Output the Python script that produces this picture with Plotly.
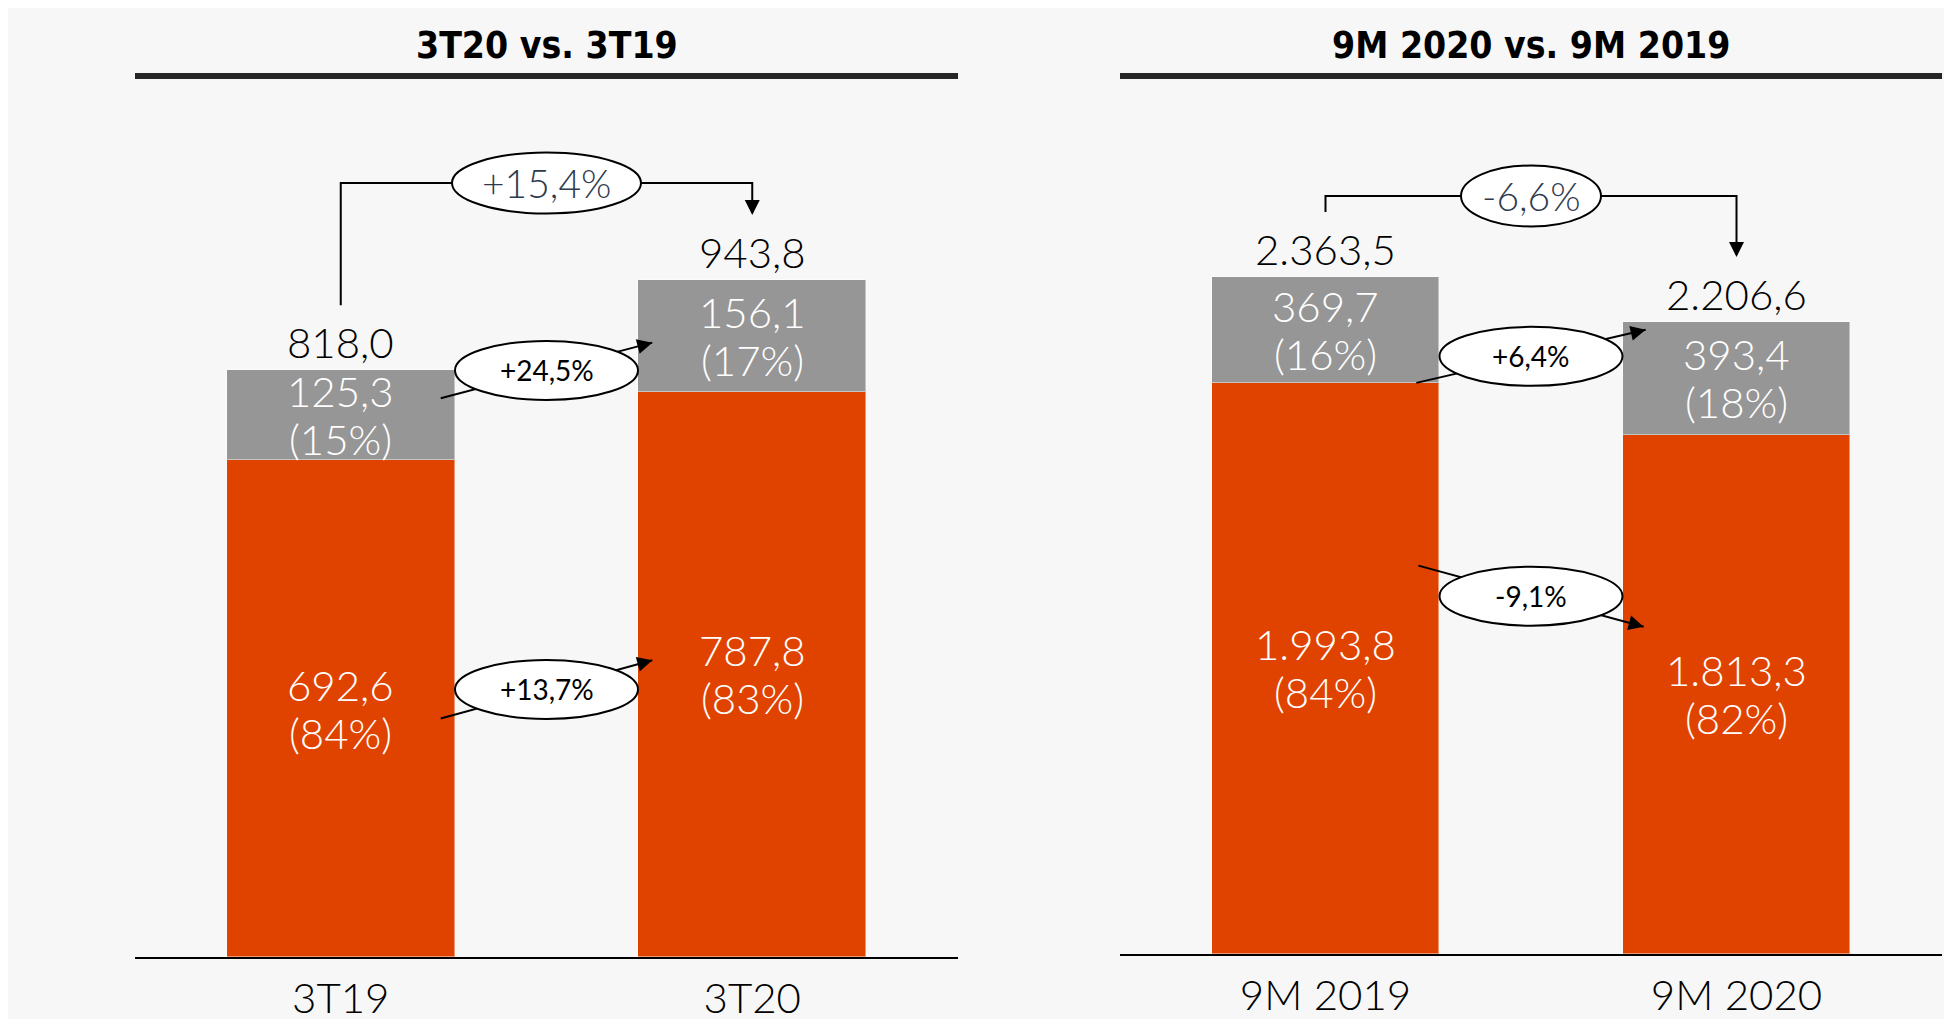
import plotly.graph_objects as go

# ---------------- data ----------------
q_categories = ["3T19", "3T20"]
q_bottom = [692.6, 787.8]
q_top = [125.3, 156.1]
q_total = [818.0, 943.8]
q_bottom_share = [84, 83]
q_top_share = [15, 17]
q_changes = ["+15,4%", "+24,5%", "+13,7%"]   # total, top segment, bottom segment

m_categories = ["9M 2019", "9M 2020"]
m_bottom = [1993.8, 1813.3]
m_top = [369.7, 393.4]
m_total = [2363.5, 2206.6]
m_bottom_share = [84, 82]
m_top_share = [16, 18]
m_changes = ["-6,6%", "+6,4%", "-9,1%"]

titles = ["3T20 vs. 3T19", "9M 2020 vs. 9M 2019"]

# ---------------- style ----------------
ORANGE = "#E04300"
GREY = "#969696"
BG = "#F7F7F7"
NUM_FONT = "Lato, 'Liberation Sans', sans-serif"
TITLE_FONT = "'DejaVu Sans Condensed', 'Liberation Sans Narrow', 'DejaVu Sans', sans-serif"
W, H = 1952, 1019
OFF = 8
BAR_PX = 677.0  # pixel height of the tallest bar
NUM_WEIGHT = 300


def fx(px):
    return (px - OFF) / W


def fy(py):
    return 1 - (py - OFF) / H


def fmt(v):
    s = f"{v:,.1f}"
    return s.replace(",", "X").replace(".", ",").replace("X", ".")


def nfont(size, color, weight=NUM_WEIGHT):
    return dict(family=NUM_FONT, size=size, color=color, weight=weight)


panels = [
    dict(cats=q_categories, bottom=q_bottom, top=q_top, total=q_total,
         bshare=q_bottom_share, tshare=q_top_share, changes=q_changes,
         xd=[fx(135), fx(958)], base_px=957, xa="x", ya="y",
         level_px=97, conn=dict(top=(0.69, 0.44), bot=(0.48, 0.525), top_end_dx=0.757, bot_end_dx=0.757)),
    dict(cats=m_categories, bottom=m_bottom, top=m_top, total=m_total,
         bshare=m_bottom_share, tshare=m_top_share, changes=m_changes,
         xd=[fx(1120), fx(1942)], base_px=954, xa="x2", ya="y2",
         level_px=81, conn=dict(top=(0.0, 0.93), bot=(0.68, 0.63), top_end_dx=0.779, bot_end_dx=0.774)),
]

TOP_PX = 100
BAR_W = 0.554

fig = go.Figure()
shapes = []
annotations = []

for i, p in enumerate(panels):
    xs = [0, 1]
    fig.add_trace(go.Bar(x=xs, y=p["bottom"], marker=dict(color=ORANGE, line=dict(width=1, color="rgba(255,255,255,0.45)")),
                         width=BAR_W, xaxis=p["xa"], yaxis=p["ya"], showlegend=False, hoverinfo="skip"))
    fig.add_trace(go.Bar(x=xs, y=p["top"], marker=dict(color=GREY, line=dict(width=1, color="rgba(255,255,255,0.45)")),
                         width=BAR_W, xaxis=p["xa"], yaxis=p["ya"], showlegend=False, hoverinfo="skip"))

    plot_h = p["base_px"] - TOP_PX
    ymax = max(p["total"])
    rng = plot_h * ymax / BAR_PX
    ppu = BAR_PX / ymax  # px per unit
    p["rng"] = rng
    p["ppu"] = ppu
    xa, ya = p["xa"], p["ya"]

    # segment labels
    for j in range(2):
        bmid = p["bottom"][j] / 2
        tmid = p["bottom"][j] + p["top"][j] / 2
        for (ymid, val, sh) in [(bmid, p["bottom"][j], p["bshare"][j]), (tmid, p["top"][j], p["tshare"][j])]:
            annotations.append(dict(x=j, y=ymid, xref=xa, yref=ya, text=fmt(val), showarrow=False,
                                    yshift=24, font=nfont(42, "white")))
            annotations.append(dict(x=j, y=ymid, xref=xa, yref=ya, text=f"({sh}%)", showarrow=False,
                                    yshift=-24, font=nfont(42, "white")))
        # totals
        annotations.append(dict(x=j, y=p["total"][j], xref=xa, yref=ya, text=fmt(p["total"][j]), showarrow=False,
                                yshift=28, font=nfont(42, "black")))

    # bracket for total change
    gap = 65 / ppu
    level = ymax + p["level_px"] / ppu
    y0s = p["total"][0] + gap
    y1s = p["total"][1] + gap
    shapes.append(dict(type="path", xref=xa, yref=ya,
                       path=f"M 0,{y0s} L 0,{level} L 1,{level} L 1,{y1s + 2 / ppu}",
                       line=dict(color="black", width=2)))
    annotations.append(dict(x=1, y=y1s, xref=xa, yref=ya, ax=1, ay=y1s + 12 / ppu, axref=xa, ayref=ya,
                            text="", showarrow=True, arrowhead=2, arrowsize=1.5, arrowwidth=2,
                            arrowcolor="black", standoff=0, startstandoff=0))

    # connectors between segments
    c = p["conn"]
    seg = []
    t0 = p["bottom"][0] + c["top"][0] * p["top"][0]
    t1 = p["bottom"][1] + c["top"][1] * p["top"][1]
    seg.append(((1 - c["top_end_dx"]), t0, c["top_end_dx"], t1))
    b0 = c["bot"][0] * p["bottom"][0]
    b1 = c["bot"][1] * p["bottom"][1]
    seg.append(((1 - c["bot_end_dx"]), b0, c["bot_end_dx"], b1))
    for (sx, sy, ex, ey) in seg:
        shapes.append(dict(type="line", xref=xa, yref=ya, x0=sx, y0=sy, x1=ex, y1=ey,
                           line=dict(color="black", width=2)))
        annotations.append(dict(x=ex, y=ey, xref=xa, yref=ya,
                                ax=sx + 0.96 * (ex - sx), ay=sy + 0.96 * (ey - sy), axref=xa, ayref=ya,
                                text="", showarrow=True, arrowhead=2, arrowsize=1.5, arrowwidth=2,
                                arrowcolor="black", standoff=0))
    p["segs"] = seg
    p["level"] = level

# ellipses + change labels
for i, p in enumerate(panels):
    xa, ya = p["xa"], p["ya"]
    ell = [(0.5, p["level"], 189 if i == 0 else 140, 61, p["changes"][0], 39, "#2E3A4C", 300)]
    for k, (sx, sy, ex, ey) in enumerate(p["segs"]):
        ell.append(((sx + ex) / 2, (sy + ey) / 2, 183, 59, p["changes"][k + 1], 28, "black", 400))
    for (cx, cy, w, h, txt, fs, col, wt) in ell:
        shapes.append(dict(type="circle", xref=xa, yref=ya, xsizemode="pixel", ysizemode="pixel",
                           xanchor=cx, yanchor=cy, x0=-w / 2, x1=w / 2, y0=-h / 2, y1=h / 2,
                           fillcolor="white", line=dict(color="black", width=2)))
        annotations.append(dict(x=cx, y=cy, xref=xa, yref=ya, text=txt, showarrow=False,
                                font=nfont(fs, col, wt)))

# titles + underlines
for i, p in enumerate(panels):
    annotations.append(dict(x=(p["xd"][0] + p["xd"][1]) / 2, y=fy(45), xref="paper", yref="paper",
                            text=f"<b>{titles[i]}</b>", showarrow=False, xanchor="center", yanchor="middle",
                            font=dict(family=TITLE_FONT, size=37, color="black")))
    shapes.append(dict(type="line", xref="paper", yref="paper", x0=p["xd"][0], x1=p["xd"][1],
                       y0=fy(76), y1=fy(76), line=dict(color="#262626", width=6)))

axis_common = dict(showgrid=False, zeroline=False, fixedrange=True)
layout = dict(
    width=W, height=H, margin=dict(l=0, r=0, t=0, b=0),
    paper_bgcolor=BG, plot_bgcolor=BG, barmode="stack", bargap=0,
    shapes=shapes, annotations=annotations, showlegend=False,
)
for i, p in enumerate(panels):
    sfx = "" if i == 0 else "2"
    layout[f"xaxis{sfx}"] = dict(domain=p["xd"], range=[-0.5, 1.5], tickvals=[0, 1], ticktext=p["cats"],
                                 showline=True, linecolor="black", linewidth=2, ticks="outside", ticklen=4,
                                 tickcolor="rgba(0,0,0,0)", anchor=f"y{sfx}",
                                 tickfont=nfont(42, "black"), **axis_common)
    layout[f"yaxis{sfx}"] = dict(domain=[fy(p["base_px"]), fy(TOP_PX)], range=[0, p["rng"]], visible=False,
                                 anchor=f"x{sfx}", **axis_common)

fig.update_layout(**layout)
fig.write_html("out.html")
